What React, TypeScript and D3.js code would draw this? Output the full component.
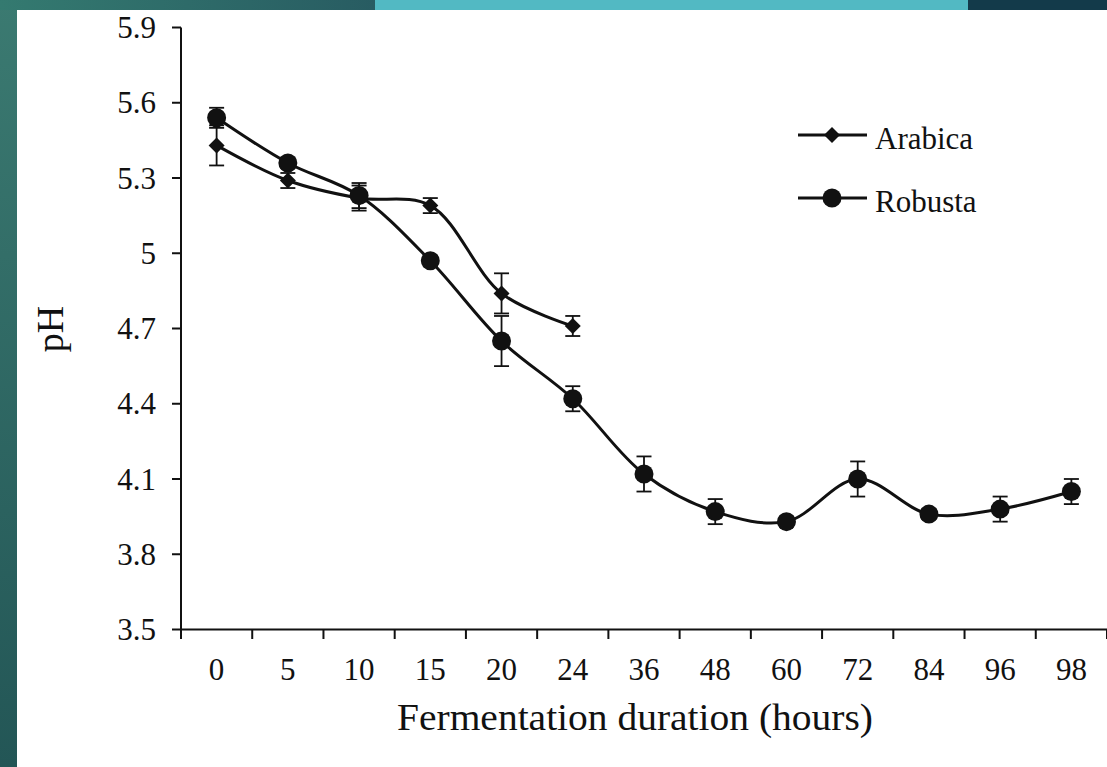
import React from "react";
import * as d3 from "d3";

const categories = ["0", "5", "10", "15", "20", "24", "36", "48", "60", "72", "84", "96", "98"];
const robustaValues = [5.54, 5.36, 5.23, 4.97, 4.65, 4.42, 4.12, 3.97, 3.93, 4.10, 3.96, 3.98, 4.05];
const robustaErrors = [0.04, 0.02, 0.05, 0.02, 0.10, 0.05, 0.07, 0.05, 0.02, 0.07, 0.02, 0.05, 0.05];
const arabicaValues = [5.43, 5.29, 5.22, 5.19, 4.84, 4.71];
const arabicaErrors = [0.08, 0.03, 0.05, 0.03, 0.08, 0.04];
const yTicks = [3.5, 3.8, 4.1, 4.4, 4.7, 5, 5.3, 5.6, 5.9];
const yTickLabels = ["3.5", "3.8", "4.1", "4.4", "4.7", "5", "5.3", "5.6", "5.9"];
const seriesNames = ["Arabica", "Robusta"];

const W = 1107;
const H = 767;
const FONT = "'Liberation Serif', 'Times New Roman', serif";
const INK = "#111";

export default function App() {
  const x = d3.scaleBand<string>().domain(categories).range([181, 1107]).padding(0);
  const y = d3.scaleLinear().domain([3.5, 5.9]).range([629.5, 27.5]);
  const cx = (c: string) => (x(c) as number) + x.bandwidth() / 2;

  const line = d3
    .line<[string, number]>()
    .x((d) => cx(d[0]))
    .y((d) => y(d[1]))
    .curve(d3.curveCatmullRom.alpha(0.5));

  const robusta: [string, number][] = robustaValues.map((v, i) => [categories[i], v]);
  const arabica: [string, number][] = arabicaValues.map((v, i) => [categories[i], v]);

  const boundaries = categories.map((c) => x(c) as number).concat([1107]);

  const diamond = (px: number, py: number, r: number) =>
    `M${px},${py - r}L${px + r},${py}L${px},${py + r}L${px - r},${py}Z`;

  const errBar = (c: string, v: number, e: number, key: string) => {
    const px = cx(c);
    const t = y(v + e);
    const b = y(v - e);
    return (
      <g key={key} stroke={INK} strokeWidth={1.8}>
        <line x1={px} x2={px} y1={t} y2={b} />
        <line x1={px - 7.5} x2={px + 7.5} y1={t} y2={t} />
        <line x1={px - 7.5} x2={px + 7.5} y1={b} y2={b} />
      </g>
    );
  };

  return (
    <svg
      width={W}
      height={H}
      style={{ position: "absolute", left: 0, top: 0, display: "block" }}
      fontFamily={FONT}
    >
      <defs>
        <linearGradient id="leftbar" x1="0" y1="0" x2="0" y2="1">
          <stop offset="0" stopColor="#3b7a71" />
          <stop offset="1" stopColor="#235656" />
        </linearGradient>
        <linearGradient id="topbar" x1="0" y1="0" x2="1" y2="0">
          <stop offset="0" stopColor="#347a70" />
          <stop offset="1" stopColor="#285c62" />
        </linearGradient>
      </defs>
      <rect x={0} y={0} width={W} height={H} fill="#ffffff" />
      <rect x={0} y={0} width={17} height={H} fill="url(#leftbar)" />
      <rect x={0} y={0} width={375} height={10} fill="url(#topbar)" />
      <rect x={375} y={0} width={593} height={10} fill="#52b9c3" />
      <rect x={968} y={0} width={W - 968} height={10} fill="#133a4a" />

      {/* axes */}
      <g stroke={INK} strokeWidth={2}>
        <line x1={181} x2={181} y1={27.5} y2={639} />
        <line x1={181} x2={1107} y1={629.5} y2={629.5} />
        {yTicks.map((t) => (
          <line key={"yt" + t} x1={172} x2={181} y1={y(t)} y2={y(t)} />
        ))}
        {boundaries.map((b, i) => (
          <line key={"xt" + i} x1={b} x2={b} y1={629.5} y2={639} />
        ))}
      </g>

      {yTicks.map((t, i) => (
        <text
          key={"yl" + t}
          x={156}
          y={y(t)}
          dy="0.34em"
          textAnchor="end"
          fontSize={31}
          fill={INK}
        >
          {yTickLabels[i]}
        </text>
      ))}
      {categories.map((c) => (
        <text key={"xl" + c} x={cx(c)} y={680} textAnchor="middle" fontSize={31} fill={INK}>
          {c}
        </text>
      ))}

      <text x={635} y={730} textAnchor="middle" fontSize={38} fill={INK} textLength={476} lengthAdjust="spacingAndGlyphs">
        Fermentation duration (hours)
      </text>
      <text
        transform="translate(63,329) rotate(-90)"
        textAnchor="middle"
        fontSize={38}
        fill={INK}
      >
        pH
      </text>

      {/* error bars */}
      {robusta.map((d, i) => errBar(d[0], d[1], robustaErrors[i], "re" + i))}
      {arabica.map((d, i) => errBar(d[0], d[1], arabicaErrors[i], "ae" + i))}

      {/* lines */}
      <path d={line(arabica) as string} fill="none" stroke={INK} strokeWidth={3} />
      <path d={line(robusta) as string} fill="none" stroke={INK} strokeWidth={3} />

      {/* markers */}
      {arabica.map((d, i) => (
        <path key={"am" + i} d={diamond(cx(d[0]), y(d[1]), 8)} fill={INK} />
      ))}
      {robusta.map((d, i) => (
        <circle key={"rm" + i} cx={cx(d[0])} cy={y(d[1])} r={9.5} fill={INK} />
      ))}

      {/* legend */}
      <g>
        <line x1={798} x2={867} y1={135} y2={135} stroke={INK} strokeWidth={3} />
        <path d={diamond(832, 135, 8)} fill={INK} />
        <text x={875} y={149} fontSize={31} fill={INK}>
          {seriesNames[0]}
        </text>
        <line x1={798} x2={867} y1={198} y2={198} stroke={INK} strokeWidth={3} />
        <circle cx={832} cy={198} r={9.5} fill={INK} />
        <text x={875} y={212} fontSize={31} fill={INK}>
          {seriesNames[1]}
        </text>
      </g>
    </svg>
  );
}
